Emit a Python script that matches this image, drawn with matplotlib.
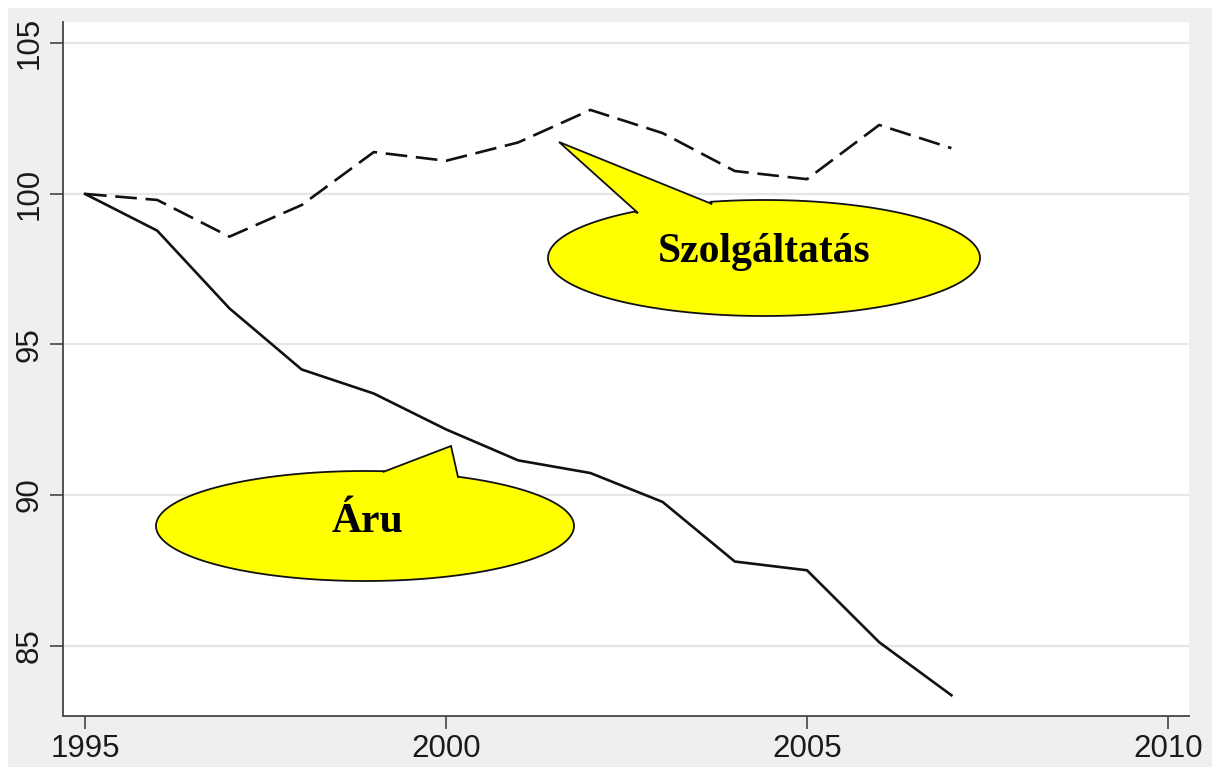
import numpy as np
import matplotlib
matplotlib.use("Agg")
import matplotlib.pyplot as plt
from matplotlib.patches import Rectangle, Polygon

# ---- data ----
years = [1995, 1996, 1997, 1998, 1999, 2000, 2001, 2002, 2003, 2004, 2005, 2006, 2007]
aru = [100.0, 98.78, 96.2, 94.17, 93.37, 92.18, 91.15, 90.73, 89.77, 87.79, 87.5, 85.11, 83.35]
szolg = [100.0, 99.8, 98.58, 99.63, 101.39, 101.1, 101.71, 102.79, 102.02, 100.76, 100.49, 102.29, 101.52]
xticks = [1995, 2000, 2005, 2010]
yticks = [85, 90, 95, 100, 105]
label_aru = "Áru"
label_szolg = "Szolgáltatás"

W, H = 1212, 767
fig = plt.figure(figsize=(W / 100, H / 100), dpi=100)
fig.patch.set_facecolor("white")
fig.patches.append(Rectangle((8 / W, 0), 1 - 8 / W, (H - 8) / H, transform=fig.transFigure,
                             facecolor="#efefef", edgecolor="none", zorder=-10))

ax = fig.add_axes([63 / W, (H - 716) / H, (1189 - 63) / W, (716 - 22) / H])
ax.set_facecolor("white")
ax.set_xlim(1994.695, 2010.291)
ax.set_ylim(82.66, 105.71)

for y in yticks:
    ax.axhline(y, color="#e6e6e6", lw=1.6, zorder=0)

ax.plot(years, aru, color="#111111", lw=1.9, solid_joinstyle="miter", zorder=3)
ax.plot(years, szolg, color="#111111", lw=1.9, linestyle=(0, (8.2, 3.3)), zorder=3)

for s in ["top", "right"]:
    ax.spines[s].set_visible(False)
for s in ["left", "bottom"]:
    ax.spines[s].set_color("#444444")
    ax.spines[s].set_linewidth(1.3)

ax.set_xticks(xticks)
ax.set_yticks(yticks)
ax.set_xticklabels([str(t) for t in xticks])
ax.set_yticklabels([str(t) for t in yticks], rotation=90, va="center")
ax.tick_params(axis="both", length=9.5, width=1.2, color="#444444",
               labelsize=22.5, labelcolor="#1a1a1a")
ax.tick_params(axis="x", pad=3.5)
ax.tick_params(axis="y", pad=3.5)
for lab in ax.get_xticklabels() + ax.get_yticklabels():
    lab.set_fontfamily("Liberation Sans")

# ---- overlay for callouts (pixel coordinates) ----
ov = fig.add_axes([0, 0, 1, 1], facecolor="none")
ov.set_xlim(0, W)
ov.set_ylim(H, 0)
ov.axis("off")


def callout(cx, cy, a, b, base1, base2, tip, text, tx, ty):
    t1 = np.arctan2((base1[1] - cy) / b, (base1[0] - cx) / a)
    t2 = np.arctan2((base2[1] - cy) / b, (base2[0] - cx) / a)
    if t1 < t2:
        t1 += 2 * np.pi
    ts = np.linspace(t2, t1, 400)
    pts = [(base2[0], base2[1])]
    pts += [(cx + a * np.cos(t), cy + b * np.sin(t)) for t in ts]
    pts += [(base1[0], base1[1]), tip]
    poly = Polygon(pts, closed=True, facecolor="#ffff00", edgecolor="#111111",
                   lw=1.3, joinstyle="miter", zorder=5)
    ov.add_patch(poly)
    ov.text(tx, ty, text, ha="center", va="center", fontsize=30,
            fontweight="bold", family="Liberation Serif", color="black", zorder=6)


callout(764, 258, 216, 58, (638, 213), (712, 204), (559, 142), label_szolg, 764, 252)
callout(365, 526, 209, 55, (383, 472), (458, 477), (451, 446), label_aru, 367, 522)

fig.savefig("out.png", dpi=100)
